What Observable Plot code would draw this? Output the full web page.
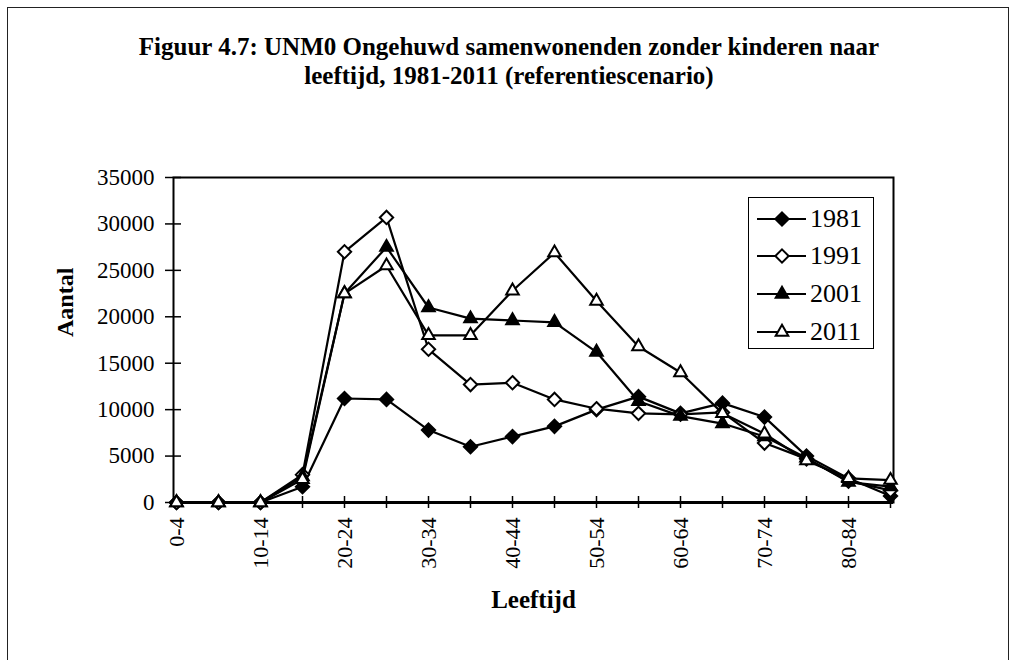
<!DOCTYPE html>
<html><head><meta charset="utf-8">
<script src="https://cdn.jsdelivr.net/npm/d3@7"></script>
<script src="https://cdn.jsdelivr.net/npm/@observablehq/plot@0.6"></script>
<style>
body{margin:0;background:#fff;}
#wrap{position:relative;width:1018px;height:660px;overflow:hidden;font-family:"Liberation Serif","Times New Roman",serif;color:#000;}
#border{position:absolute;left:7px;top:7px;width:1000px;height:700px;border:1.5px solid #222;}
#title{position:absolute;top:0;left:0;width:1018px;height:100px;text-align:center;font-weight:bold;font-size:25px;line-height:29px;padding-top:32px;box-sizing:border-box;}
#chart{position:absolute;top:100px;left:0;}
#legend{position:absolute;left:748px;top:197px;width:126px;height:152px;border:1.2px solid #000;background:#fff;box-sizing:border-box;}
.row{position:absolute;left:0;height:30px;display:flex;align-items:center;}
.row span{font-size:26px;margin-left:1px;}
</style></head>
<body>
<div id="wrap">
  <div id="border"></div>
  <div id="title">Figuur 4.7: UNM0 Ongehuwd samenwonenden zonder kinderen naar<br>leeftijd, 1981-2011 (referentiescenario)</div>
  <div id="chart"></div>
  <div id="legend"></div>
</div>
<script>
const ages = ["0-4","5-9","10-14","15-19","20-24","25-29","30-34","35-39","40-44","45-49","50-54","55-59","60-64","65-69","70-74","75-79","80-84","85+"];
const labeledAges = ["0-4","10-14","20-24","30-34","40-44","50-54","60-64","70-74","80-84"];
const yTicks = [0,5000,10000,15000,20000,25000,30000,35000];
const years = ["1981","1991","2001","2011"];
const v1981 = [0,0,0,1700,11200,11100,7800,6000,7100,8200,10000,11400,9600,10700,9200,5000,2600,700];
const v1991 = [0,0,0,3000,27000,30700,16500,12700,12900,11100,10100,9600,9500,9700,6400,4700,2300,1300];
const v2001 = [0,0,0,2800,22500,27500,21000,19800,19600,19400,16200,10900,9300,8500,7100,4800,2200,1700];
const v2011 = [0,0,0,2500,22500,25500,18000,18000,22800,26900,21700,16800,14000,9600,7400,4500,2600,2400];

const seriesValues = [v1981, v1991, v2001, v2011];
const styles = [
  {symbol:"diamond2", fill:"black"},
  {symbol:"diamond2", fill:"white"},
  {symbol:"triangle2", fill:"black"},
  {symbol:"triangle2", fill:"white"}
];
const font = "Liberation Serif, Times New Roman, serif";

const marks = [];
years.forEach((year, k) => {
  const rows = ages.map((age, i) => ({year, age, value: seriesValues[k][i]}));
  marks.push(Plot.line(rows, {x:"age", y:"value", stroke:"black", strokeWidth:2.2}));
  marks.push(Plot.dot(rows, {x:"age", y:"value", symbol:styles[k].symbol, r:6, fill:styles[k].fill, stroke:"black", strokeWidth:2}));
});

const chart = Plot.plot({
  width: 1018, height: 550,
  marginTop: 77, marginBottom: 148, marginLeft: 173, marginRight: 125,
  style: {fontFamily: font, fontSize: "22px", background: "transparent", color: "black"},
  x: {type:"point", domain: ages, padding: 0, axis: null},
  y: {domain: [0, 35000], axis: null},
  marks: [
    Plot.frame({stroke:"black", strokeWidth:2}),
    Plot.axisY({ticks: yTicks, tickSize: 16, dx: 8, text: null, label: null, strokeWidth: 1.5}),
    Plot.axisY({ticks: yTicks, tickSize: 0, tickPadding: 19, tickFormat: "d", fontSize: 23, label: null}),
    Plot.axisX({ticks: ages, tickSize: 12, dy: -6, text: null, label: null, strokeWidth: 1.5}),
    Plot.axisX({ticks: labeledAges, tickSize: 0, tickPadding: 15, tickRotate: -90, fontSize: 22, label: null}),
    Plot.ruleY([0], {stroke:"black", strokeWidth:3}),
    ...marks,
    Plot.text(["Leeftijd"], {text: d => d, frameAnchor:"bottom", dy: 105, fontWeight:"bold", fontSize: 25}),
    Plot.text(["Aantal"], {text: d => d, frameAnchor:"left", dx: -108, dy: -3, rotate: -90, fontWeight:"bold", fontSize: 24})
  ]
});
document.getElementById("chart").appendChild(chart);

// legend
const legend = d3.select("#legend");
const rowTops = [6, 43, 81, 119];
years.forEach((year, k) => {
  const row = legend.append("div").attr("class","row").style("top", rowTops[k] + "px");
  const svg = row.append("svg").attr("width", 60).attr("height", 30);
  svg.append("line").attr("x1", 8).attr("x2", 57).attr("y1", 15).attr("y2", 15)
    .attr("stroke","black").attr("stroke-width", 2.2);
  const sym = styles[k].symbol === "diamond2" ? d3.symbolDiamond2 : d3.symbolTriangle2;
  svg.append("path").attr("d", d3.symbol(sym, Math.PI * 36)())
    .attr("transform", "translate(33,15)")
    .attr("fill", styles[k].fill).attr("stroke","black").attr("stroke-width", 2);
  row.append("span").text(year);
});
</script>
</body></html>
